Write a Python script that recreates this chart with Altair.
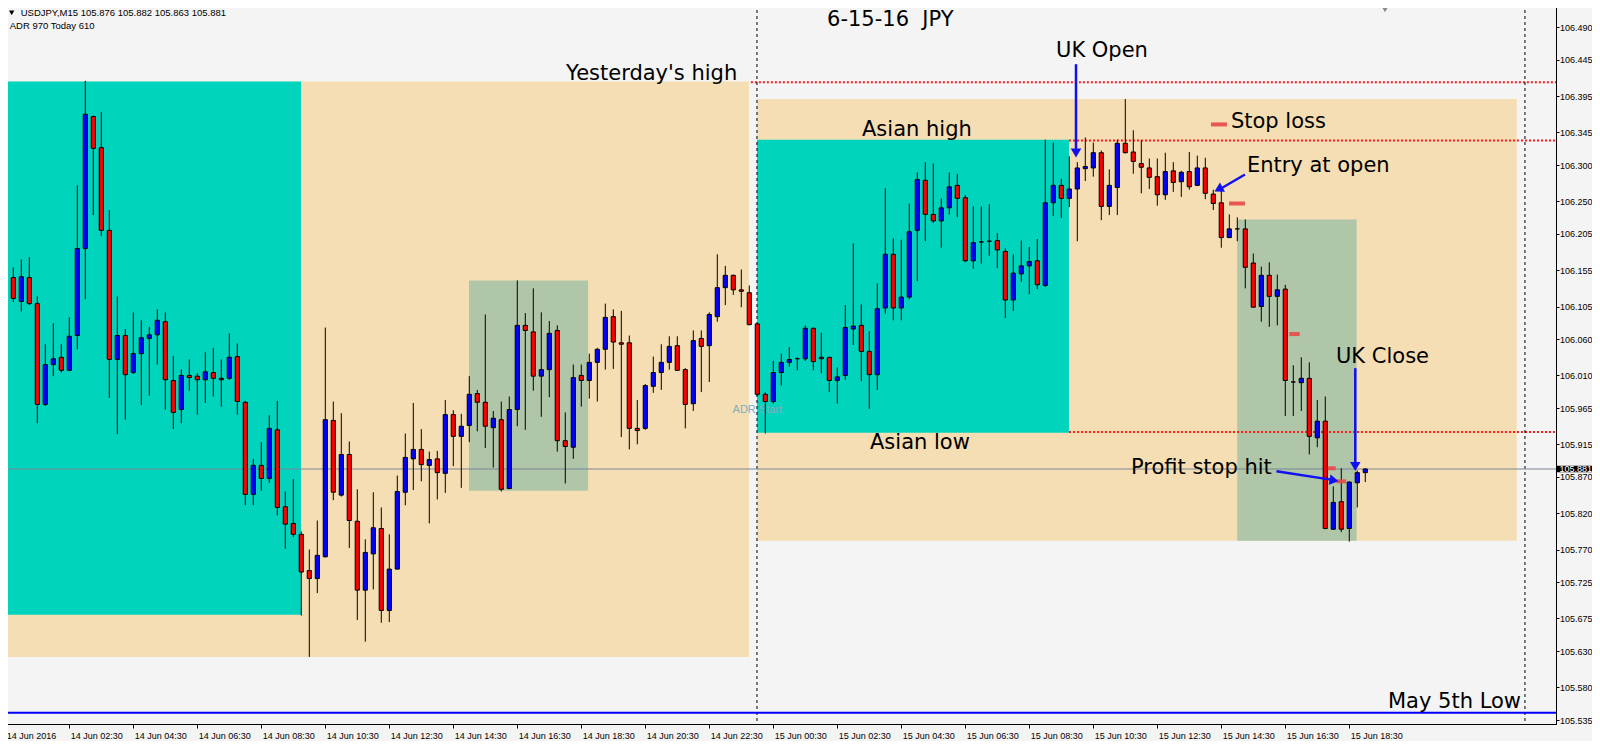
import altair as alt
import pandas as pd

# ---------------- data (USDJPY M15, 14-15 Jun 2016) ----------------
opens = [106.151, 106.145, 106.112, 106.145, 106.109, 105.970, 106.025, 106.035, 106.017, 106.065,
         106.185, 106.367, 106.324, 106.210, 106.032, 106.065, 106.014, 106.040, 106.061, 106.066,
         106.084, 106.003, 105.963, 106.010, 106.009, 106.004, 106.014, 106.006, 106.006, 106.036,
         105.973, 105.846, 105.886, 105.868, 105.935, 105.829, 105.806, 105.791, 105.741, 105.730,
         105.760, 105.948, 105.845, 105.901, 105.809, 105.714, 105.764, 105.799, 105.686, 105.743,
         105.849, 105.895, 105.908, 105.886, 105.895, 105.875, 105.956, 105.926, 105.941, 105.985,
         105.973, 105.938, 105.949, 105.854, 105.963, 106.079, 106.070, 106.009, 106.018, 106.072,
         105.920, 105.911, 106.010, 106.003, 106.028, 106.046, 106.091, 106.055, 106.055, 105.937,
         105.937, 105.995, 106.014, 106.028, 106.051, 106.018, 105.971, 106.061, 106.051, 106.091,
         106.131, 106.148, 106.128, 106.124, 106.081, 105.984, 105.974, 106.014, 106.028, 106.033,
         106.033, 106.075, 106.035, 106.035, 106.003, 106.010, 106.074, 106.079, 106.043, 106.011,
         106.103, 106.177, 106.103, 106.118, 106.210, 106.279, 106.232, 106.223, 106.241, 106.272,
         106.255, 106.168, 106.194, 106.195, 106.196, 106.181, 106.114, 106.150, 106.161, 106.168,
         106.134, 106.248, 106.272, 106.254, 106.267, 106.295, 106.296, 106.317, 106.243, 106.269,
         106.330, 106.318, 106.302, 106.296, 106.284, 106.259, 106.292, 106.277, 106.291, 106.272,
         106.296, 106.260, 106.248, 106.200, 106.212, 106.212, 106.165, 106.105, 106.148, 106.119,
         106.129, 106.001, 106.000, 106.006, 105.924, 105.947, 105.798, 105.836, 105.799, 105.862,
         105.876]
highs = [106.160, 106.159, 106.170, 106.173, 106.119, 106.053, 106.082, 106.053, 106.090, 106.272,
         106.416, 106.368, 106.373, 106.238, 106.119, 106.074, 106.097, 106.086, 106.077, 106.101,
         106.097, 106.037, 106.018, 106.032, 106.013, 106.042, 106.048, 106.032, 106.068, 106.054,
         105.975, 105.895, 105.918, 105.955, 105.975, 105.850, 105.867, 105.795, 105.770, 105.810,
         106.076, 105.974, 105.958, 105.919, 105.853, 105.784, 105.849, 105.828, 105.791, 105.872,
         105.930, 105.972, 105.936, 105.905, 105.906, 105.976, 105.962, 105.957, 106.009, 105.990,
         106.094, 105.961, 105.974, 105.981, 106.141, 106.096, 106.130, 106.097, 106.085, 106.079,
         105.959, 106.025, 106.025, 106.040, 106.048, 106.109, 106.101, 106.099, 106.065, 105.976,
         105.998, 106.036, 106.053, 106.064, 106.064, 106.020, 106.072, 106.072, 106.097, 106.177,
         106.161, 106.149, 106.156, 106.134, 106.081, 105.987, 106.030, 106.040, 106.049, 106.035,
         106.079, 106.076, 106.069, 106.035, 106.021, 106.107, 106.192, 106.108, 106.071, 106.137,
         106.268, 106.199, 106.197, 106.247, 106.290, 106.304, 106.302, 106.254, 106.290, 106.288,
         106.259, 106.243, 106.243, 106.246, 106.206, 106.185, 106.177, 106.196, 106.187, 106.198,
         106.335, 106.331, 106.281, 106.312, 106.304, 106.338, 106.331, 106.320, 106.294, 106.335,
         106.391, 106.348, 106.334, 106.309, 106.309, 106.317, 106.304, 106.292, 106.318, 106.313,
         106.310, 106.266, 106.266, 106.232, 106.228, 106.225, 106.178, 106.160, 106.166, 106.149,
         106.135, 106.024, 106.035, 106.028, 105.976, 105.981, 105.857, 105.882, 105.864, 105.879,
         105.882]
lows = [106.132, 106.111, 106.098, 106.107, 105.944, 105.968, 106.009, 106.014, 106.017, 106.046,
        106.115, 106.231, 106.202, 105.979, 105.929, 105.949, 106.012, 105.969, 105.982, 106.025,
        105.963, 105.936, 105.944, 105.989, 105.956, 105.972, 105.981, 105.967, 106.004, 105.956,
        105.831, 105.831, 105.851, 105.862, 105.817, 105.771, 105.787, 105.679, 105.622, 105.710,
        105.759, 105.838, 105.843, 105.772, 105.673, 105.643, 105.715, 105.669, 105.670, 105.743,
        105.831, 105.852, 105.864, 105.806, 105.839, 105.848, 105.885, 105.855, 105.918, 105.933,
        105.910, 105.883, 105.850, 105.854, 105.940, 105.935, 105.989, 105.953, 105.980, 105.905,
        105.861, 105.895, 105.967, 105.978, 105.974, 106.018, 106.019, 105.925, 105.908, 105.915,
        105.935, 105.986, 105.990, 106.018, 106.016, 105.937, 105.961, 105.987, 106.001, 106.084,
        106.107, 106.121, 106.104, 106.079, 105.982, 105.930, 105.971, 105.996, 106.022, 106.017,
        106.030, 106.017, 106.013, 105.987, 105.971, 106.004, 106.052, 106.002, 105.964, 105.990,
        106.095, 106.086, 106.086, 106.115, 106.140, 106.195, 106.220, 106.186, 106.232, 106.228,
        106.166, 106.157, 106.164, 106.175, 106.158, 106.089, 106.099, 106.139, 106.122, 106.129,
        106.132, 106.230, 106.227, 106.242, 106.195, 106.278, 106.284, 106.224, 106.231, 106.231,
        106.316, 106.288, 106.261, 106.267, 106.244, 106.252, 106.263, 106.256, 106.266, 106.271,
        106.253, 106.238, 106.186, 106.200, 106.195, 106.130, 106.104, 106.084, 106.077, 106.079,
        105.954, 105.954, 105.961, 105.901, 105.911, 105.798, 105.797, 105.794, 105.781, 105.828,
        105.863]
closes = [106.140, 106.116, 106.146, 106.109, 105.970, 106.025, 106.033, 106.017, 106.064, 106.185,
          106.370, 106.323, 106.210, 106.032, 106.065, 106.011, 106.040, 106.062, 106.066, 106.086,
          106.004, 105.959, 106.010, 106.007, 106.004, 106.015, 106.006, 106.004, 106.035, 105.974,
          105.846, 105.886, 105.868, 105.937, 105.828, 105.805, 105.791, 105.739, 105.730, 105.762,
          105.949, 105.849, 105.901, 105.810, 105.714, 105.766, 105.800, 105.686, 105.743, 105.850,
          105.897, 105.908, 105.887, 105.894, 105.876, 105.956, 105.926, 105.940, 105.984, 105.973,
          105.940, 105.951, 105.853, 105.963, 106.079, 106.072, 106.009, 106.018, 106.068, 105.920,
          105.912, 106.007, 106.003, 106.028, 106.046, 106.090, 106.056, 106.053, 105.937, 105.934,
          105.996, 106.014, 106.028, 106.050, 106.017, 105.970, 106.058, 106.050, 106.094, 106.131,
          106.148, 106.128, 106.126, 106.080, 105.984, 105.974, 106.014, 106.028, 106.032, 106.033,
          106.075, 106.029, 106.033, 106.003, 106.008, 106.076, 106.078, 106.043, 106.011, 106.102,
          106.177, 106.103, 106.118, 106.208, 106.280, 106.232, 106.223, 106.241, 106.270, 106.254,
          106.168, 106.193, 106.194, 106.195, 106.183, 106.114, 106.151, 106.161, 106.167, 106.135,
          106.248, 106.272, 106.254, 106.267, 106.296, 106.298, 106.317, 106.243, 106.272, 106.330,
          106.317, 106.305, 106.297, 106.283, 106.259, 106.291, 106.276, 106.290, 106.270, 106.296,
          106.261, 106.247, 106.200, 106.212, 106.212, 106.159, 106.104, 106.148, 106.119, 106.128,
          106.003, 106.001, 106.006, 105.926, 105.947, 105.799, 105.835, 105.798, 105.863, 105.876,
          105.881]

x_tick_bars = list(range(0, 169, 8))
x_tick_labels = ["14 Jun 2016", "14 Jun 02:30", "14 Jun 04:30", "14 Jun 06:30", "14 Jun 08:30",
                 "14 Jun 10:30", "14 Jun 12:30", "14 Jun 14:30", "14 Jun 16:30", "14 Jun 18:30",
                 "14 Jun 20:30", "14 Jun 22:30", "15 Jun 00:30", "15 Jun 02:30", "15 Jun 04:30",
                 "15 Jun 06:30", "15 Jun 08:30", "15 Jun 10:30", "15 Jun 12:30", "15 Jun 14:30",
                 "15 Jun 16:30", "15 Jun 18:30"]
y_tick_values = [106.490, 106.445, 106.395, 106.345, 106.300, 106.250, 106.205, 106.155, 106.105,
                 106.060, 106.010, 105.965, 105.915, 105.870, 105.820, 105.770, 105.725, 105.675,
                 105.630, 105.580, 105.535]

# session boxes: name, first bar, last bar, low, high, colour (drawing order)
box_names = ["day14", "day15", "asia14", "asia15", "zone14", "zone15"]
box_x0 = [-1.0, 93.96, -1.0, 93.96, 57.96, 153.99]
box_x1 = [92.96, 188.93, 36.96, 132.96, 72.85, 168.92]
box_lo = [105.622, 105.782, 105.680, 105.931, 105.851, 105.782]
box_hi = [106.415, 106.391, 106.415, 106.335, 106.141, 106.225]
box_col = ["#f5deb3", "#f5deb3", "#00d4bc", "#00d4bc", "#afc6a9", "#afc6a9"]

# horizontal levels
level_names = ["Yesterday's high", "Asian high", "Asian low"]
level_price = [106.414, 106.334, 105.932]
level_from = [93.2, 132.96, 132.96]
may5_low = 105.545
current_price = 105.881
day_separators = [93.96, 189.96]

# trade markers (red dashes)
marker_x0 = [150.71, 152.96, 160.5, 165.3, 166.4]
marker_x1 = [152.71, 154.96, 161.8, 166.3, 167.6]
marker_p = [106.356, 106.247, 106.067, 105.882, 105.864]

# arrows: start (bar, price) -> end (bar, price); head position & angle
arrow_x = [133.84, 154.96, 168.75, 158.9]
arrow_y = [106.439, 106.287, 106.020, 105.878]
arrow_x2 = [133.84, 151.7, 168.75, 165.9]
arrow_y2 = [106.322, 106.266, 105.888, 105.866]
head_x = [133.84, 151.65, 168.75, 166.1]
head_y = [106.3165, 106.2665, 105.8845, 105.8652]
head_angle = [180, 241, 180, 100]

# annotation texts (left edge bar, price)
ann_text = ["6-15-16\u00a0\u00a0JPY", "Yesterday's high", "UK Open", "Asian high", "Stop loss",
            "Entry at open", "Asian low", "UK Close", "Profit stop hit", "May 5th Low"]
ann_x = [102.72, 70.1, 131.34, 107.09, 153.2, 155.2, 108.09, 166.34, 140.71, 172.84]
ann_y = [106.5005, 106.426, 106.457, 106.348, 106.359, 106.298, 105.917, 106.036, 105.882, 105.560]

# ---------------- chart ----------------
XS = alt.Scale(domain=[-0.0375, 193.84], nice=False, zero=False)
YS = alt.Scale(domain=[105.5295, 106.522], nice=False, zero=False)

label_arr = "[" + ",".join("'%s'" % s for s in x_tick_labels) + "]"
XAX = alt.Axis(title=None, values=x_tick_bars, labelExpr=label_arr + "[round(datum.value/8)]",
               labelAlign="left", labelFont="Liberation Sans", labelFontSize=9, labelColor="#000000",
               labelPadding=3, labelOffset=1, tickColor="#000000", tickSize=4, domainColor="#000000",
               grid=False, labelOverlap=False, labelBound=False, labelFlush=False)
YAX = alt.Axis(title=None, orient="right", values=y_tick_values, format=".3f",
               labelFont="Liberation Sans", labelFontSize=9, labelColor="#000000", labelPadding=0.5,
               tickColor="#000000", tickSize=3, domainColor="#000000", grid=False,
               labelOverlap=False, labelBound=False, labelFlush=False)


def X(f):
    return alt.X(f + ":Q", scale=XS, axis=XAX)


def Y(f):
    return alt.Y(f + ":Q", scale=YS, axis=YAX)


candles = pd.DataFrame({"i": list(range(len(opens))), "o": opens, "h": highs, "l": lows, "c": closes})
candles["fill"] = ["#0000ff" if c > o else "#ff0000" for o, c in zip(opens, closes)]

boxes = pd.DataFrame({"name": box_names, "x0": box_x0, "x1": box_x1, "lo": box_lo, "hi": box_hi,
                      "col": box_col})
levels = pd.DataFrame({"name": level_names, "p": level_price, "x0": level_from,
                       "x1": [193.84] * len(level_names)})
markers = pd.DataFrame({"x0": marker_x0, "x1": marker_x1, "p": marker_p})
arrows = pd.DataFrame({"x": arrow_x, "y": arrow_y, "x2": arrow_x2, "y2": arrow_y2,
                       "hx": head_x, "hy": head_y, "ang": head_angle})
anns = pd.DataFrame({"t": ann_text, "x": ann_x, "y": ann_y})

box_layer = alt.Chart(boxes).mark_rect(clip=True).encode(
    x=X("x0"), x2="x1", y=Y("lo"), y2="hi", color=alt.Color("col:N", scale=None))

level_layer = alt.Chart(levels).mark_rule(color="#ff1a1a", strokeWidth=2, strokeDash=[2, 2],
                                          clip=True).encode(x=X("x0"), x2="x1", y=Y("p"))

sep_layer = alt.Chart(pd.DataFrame({"x": day_separators})).mark_rule(
    color="#000000", strokeWidth=1, strokeDash=[3, 3], clip=True).encode(x=X("x"))

may_layer = alt.Chart(pd.DataFrame({"p": [may5_low]})).mark_rule(
    color="#0000ff", strokeWidth=2).encode(y=Y("p"))

cur_layer = alt.Chart(pd.DataFrame({"p": [current_price]})).mark_rule(
    color="#7a8696", strokeWidth=1).encode(y=Y("p"))

adr_layer = alt.Chart(pd.DataFrame({"t": ["ADR Start"], "x": [94.0], "y": [105.963]})).mark_text(
    font="Liberation Sans", fontSize=11, color="#7fb0bf", align="center", baseline="middle").encode(
    x=X("x"), y=Y("y"), text="t:N")

wick_layer = alt.Chart(candles).mark_rule(color="#000000", strokeWidth=1, clip=True).encode(
    x=X("i"), y=Y("l"), y2="h")

body_layer = alt.Chart(candles).transform_calculate(
    xl="datum.i - 0.26", xr="datum.i + 0.26").mark_rect(
    stroke="#000000", strokeWidth=1, clip=True).encode(
    x=X("xl"), x2="xr", y=Y("o"), y2="c", color=alt.Color("fill:N", scale=None))

marker_layer = alt.Chart(markers).mark_rule(color="#e84848", strokeWidth=4, opacity=0.9).encode(
    x=X("x0"), x2="x1", y=Y("p"))

arrow_layer = alt.Chart(arrows).mark_rule(color="#1010f0", strokeWidth=2.5).encode(
    x=X("x"), y=Y("y"), x2="x2", y2="y2")

head_layer = alt.Chart(arrows).mark_point(shape="triangle-up", filled=True, color="#1010f0",
                                          size=110, opacity=1).encode(
    x=X("hx"), y=Y("hy"), angle=alt.Angle("ang:Q", scale=None))

ann_layer = alt.Chart(anns).mark_text(font="DejaVu Sans", fontSize=21, color="#000000",
                                      align="left", baseline="middle").encode(
    x=X("x"), y=Y("y"), text="t:N")

price_box = alt.Chart(pd.DataFrame({"hi": [current_price + 0.0045],
                                    "lo": [current_price - 0.0045]})).mark_rect(
    color="#000000").encode(x=alt.value(1552), x2=alt.value(1590), y=Y("hi"), y2="lo")

price_txt = alt.Chart(pd.DataFrame({"p": [current_price], "t": ["105.881"]})).mark_text(
    font="Liberation Sans", fontSize=9, color="#ffffff", align="left", baseline="middle").encode(
    x=alt.value(1554.5), y=Y("p"), text="t:N")

header = alt.Chart(pd.DataFrame({"t": ["USDJPY,M15  105.876 105.882 105.863 105.881",
                                       "ADR 970  Today 610"],
                                 "px": [15.7, 4.7], "py": [8.9, 21.5]})).mark_text(
    font="Liberation Sans", fontSize=9.5, color="#000000", align="left", baseline="middle").encode(
    x=alt.X("px:Q", scale=None, axis=None), y=alt.Y("py:Q", scale=None, axis=None), text="t:N")

header_tri = alt.Chart(pd.DataFrame({"px": [6.7, 1380.0], "py": [8.9, 5.0],
                                     "c": ["#000000", "#8a8a8a"], "s": [28, 60]})).mark_point(
    shape="triangle-down", filled=True, opacity=1).encode(
    x=alt.X("px:Q", scale=None, axis=None), y=alt.Y("py:Q", scale=None, axis=None),
    color=alt.Color("c:N", scale=None), size=alt.Size("s:Q", scale=None))

chart = alt.layer(
    box_layer, level_layer, sep_layer, may_layer, cur_layer, adr_layer,
    wick_layer, body_layer, marker_layer, arrow_layer, head_layer, ann_layer,
    price_box, price_txt, header, header_tri
).resolve_scale(x="shared", y="shared").properties(
    width=1551, height=720,
    autosize=alt.AutoSizeParams(type="none"),
    padding={"left": -3, "top": -4, "right": 36, "bottom": 17},
    background="#f4f4f4",
).configure_view(fill="#f4f4f4", stroke="#000000", strokeWidth=1)

chart.save("out.html", embed_options={"renderer": "svg", "actions": False})
